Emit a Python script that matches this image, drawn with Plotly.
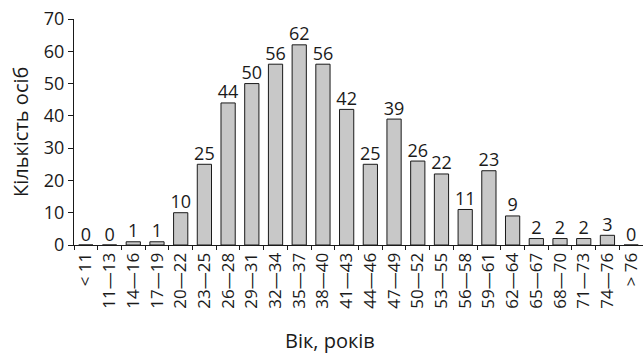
import plotly.graph_objects as go

categories = ["< 11", "11—13", "14—16", "17—19", "20—22", "23—25", "26—28", "29—31",
              "32—34", "35—37", "38—40", "41—43", "44—46", "47—49", "50—52", "53—55",
              "56—58", "59—61", "62—64", "65—67", "68—70", "71—73", "74—76", "> 76"]
counts = [0, 0, 1, 1, 10, 25, 44, 50, 56, 62, 56, 42, 25, 39, 26, 22, 11, 23, 9, 2, 2, 2, 3, 0]
y_ticks = [0, 10, 20, 30, 40, 50, 60, 70]
x_title = "Вік, років"
y_title = "Кількість осіб"

font_family = "Open Sans, Noto Sans, DejaVu Sans, sans-serif"
ink = "#1a1a1a"

fig = go.Figure()
fig.add_trace(go.Bar(
    x=categories, y=counts,
    marker=dict(color="#c8c8c8", line=dict(color=ink, width=1)),
    width=0.6,
))
fig.add_trace(go.Scatter(
    x=categories, y=counts, mode="text",
    text=[str(v) for v in counts], textposition="top center",
    textfont=dict(size=18, color=ink, family=font_family),
    cliponaxis=False, hoverinfo="skip",
))

fig.update_layout(
    width=643, height=356,
    margin=dict(l=74, r=0, t=19, b=111),
    paper_bgcolor="white", plot_bgcolor="white",
    font=dict(family=font_family, color=ink),
    showlegend=False,
    annotations=[
        dict(text=x_title, xref="paper", yref="paper", x=0.45, y=0, yshift=-95,
             showarrow=False, font=dict(size=20, family=font_family, color=ink),
             xanchor="center", yanchor="middle"),
        dict(text=y_title, xref="paper", yref="paper", x=0, y=0.5, xshift=-54,
             textangle=-90, showarrow=False,
             font=dict(size=20, family=font_family, color=ink),
             xanchor="center", yanchor="middle"),
    ],
)
fig.update_xaxes(
    type="category", range=[-0.5, 23.5], automargin=False,
    showline=True, linecolor=ink, linewidth=1,
    ticks="outside", tickson="boundaries", ticklen=4, tickcolor=ink,
    tickangle=-90, tickfont=dict(size=17, family=font_family),
    showgrid=False,
)
fig.update_yaxes(
    range=[0, 70], tickvals=y_ticks, automargin=False,
    showline=True, linecolor=ink, linewidth=1,
    ticks="outside", ticklen=5, tickcolor=ink,
    tickfont=dict(size=18, family=font_family),
    showgrid=False, zeroline=False,
)

fig.write_html("out.html", config={"displayModeBar": False},
               post_script="document.body.style.margin='0';document.body.style.overflow='hidden';")
